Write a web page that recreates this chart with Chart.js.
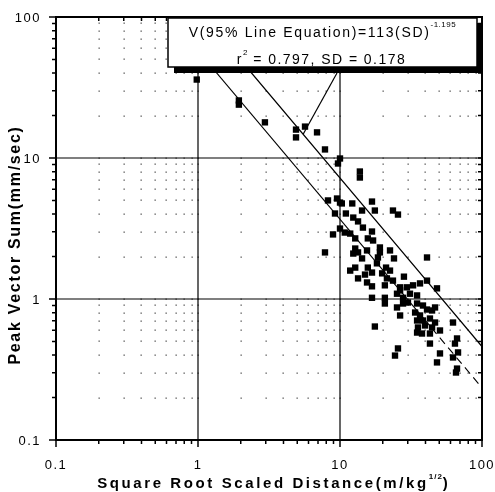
<!DOCTYPE html>
<html>
<head>
<meta charset="utf-8">
<script src="https://cdn.jsdelivr.net/npm/chart.js@4.4.1/dist/chart.umd.min.js"></script>
<style>
  html, body { margin:0; padding:0; background:#fff; }
  #wrap { width:495px; height:492px; }
</style>
</head>
<body>
<div id="wrap"><canvas id="chart" width="495" height="492"></canvas></div>
<script>
// Scaled distance (m/kg^1/2) and peak vector sum (mm/sec), one entry per record
const sdValues = [
  0.98, 1.94, 1.94, 2.96, 4.90, 4.90, 5.67, 6.89, 7.84, 9.68,
  10.0, 13.8, 13.8, 9.53, 10.0, 10.3, 8.23, 12.2, 16.8, 23.6,
  25.6, 9.22, 11.0, 14.3, 17.6, 12.4, 13.4, 10.0, 10.8, 11.8,
  12.8, 14.5, 16.8, 8.93, 7.84, 15.7, 17.1, 19.1, 12.8, 13.4,
  12.4, 15.5, 19.1, 22.5, 24.0, 18.5, 14.3, 41.0, 11.8, 12.8,
  15.7, 18.2, 21.1, 22.5, 16.8, 19.8, 13.4, 15.0, 21.4, 28.2,
  15.5, 16.8, 20.7, 23.6, 26.5, 29.6, 32.7, 36.6, 41.0, 48.2,
  16.8, 20.7, 25.2, 27.8, 31.1, 34.9, 26.5, 30.1, 20.7, 25.2,
  27.8, 34.9, 38.4, 41.0, 26.5, 33.8, 36.6, 44.5, 34.9, 38.4,
  43.0, 46.7, 62.5, 17.6, 35.4, 39.7, 44.5, 50.6, 34.9, 37.8,
  43.0, 66.7, 43.0, 64.5, 25.6, 24.4, 50.6, 48.2, 67.8, 62.5,
  66.7, 65.6, 46.7
];
const pvsValues = [
  36.0, 25.6, 23.9, 17.9, 15.9, 14.0, 16.7, 15.2, 11.5, 9.14,
  9.92, 8.02, 7.27, 5.16, 4.83, 4.76, 5.00, 4.76, 4.91, 4.24,
  3.97, 4.04, 4.04, 4.24, 4.24, 3.78, 3.55, 3.16, 2.96, 2.91,
  2.69, 3.21, 3.01, 2.87, 2.14, 2.69, 2.60, 2.32, 2.28, 2.14,
  2.10, 2.21, 2.14, 2.21, 1.94, 1.97, 1.94, 1.97, 1.59, 1.67,
  1.67, 1.79, 1.67, 1.59, 1.54, 1.52, 1.40, 1.49, 1.40, 1.44,
  1.31, 1.23, 1.25, 1.35, 1.21, 1.21, 1.25, 1.29, 1.35, 1.19,
  1.02, 1.02, 1.09, 1.02, 1.09, 1.06, 1.15, 0.944, 0.929, 0.871,
  0.929, 0.929, 0.899, 0.842, 0.764, 0.802, 0.764, 0.829, 0.704, 0.704,
  0.727, 0.681, 0.681, 0.638, 0.628, 0.649, 0.628, 0.598, 0.578, 0.569,
  0.569, 0.525, 0.483, 0.483, 0.446, 0.397, 0.411, 0.355, 0.418, 0.385,
  0.321, 0.301, 0.871
];

// Fitted attenuation law: V = K * SD^b (95% line), log standard deviation
const fitK95 = 113;
const fitExp = -1.195;
const fitR2 = 0.797;
const fitSD = 0.178;

// Axis decades and labels
const decades = [0.1, 1, 10, 100];
const xTickLabels = ['0.1', '1', '10', '100'];
const yTickLabels = ['0.1', '1', '10', '100'];

// x positions used to draw the two straight lines (mean line dashed after the 2nd)
const lineXs = [0.5, 44, 100];

const fitK50 = fitK95 / Math.pow(10, 1.645 * fitSD);
const line95 = lineXs.map(x => ({ x, y: fitK95 * Math.pow(x, fitExp) }));
const line50 = lineXs.map(x => ({ x, y: fitK50 * Math.pow(x, fitExp) }));
const points = sdValues.map((x, i) => ({ x, y: pvsValues[i] }));

// every 1..9 step in each decade
const minorVals = [];
decades.slice(0, 3).forEach(d => { for (let k = 2; k <= 9; k++) minorVals.push(+(d * k).toFixed(2)); });
const gridVals = decades.concat(minorVals);

const FONT = '"Liberation Sans", Arial, sans-serif';

function drawRuns(ctx, parts, cx, base) {
  let total = 0;
  parts.forEach(p => {
    ctx.font = p.font; ctx.letterSpacing = p.ls || '0px';
    p.w = ctx.measureText(p.t).width; total += p.w;
  });
  let xx = cx - total / 2;
  parts.forEach(p => {
    ctx.font = p.font; ctx.letterSpacing = p.ls || '0px';
    ctx.fillText(p.t, xx, base + (p.dy || 0));
    xx += p.w;
  });
}

const frame = {
  id: 'frame',
  beforeDatasetsDraw(chart) {
    const { ctx, chartArea: a, scales: { x, y } } = chart;
    ctx.save();
    // dotted minor grid, one dot per crossing
    ctx.fillStyle = '#555';
    gridVals.forEach(vx => gridVals.forEach(vy => {
      const px = Math.round(x.getPixelForValue(vx)), py = Math.round(y.getPixelForValue(vy));
      ctx.fillRect(px - 0.5, py - 0.5, 1.3, 1.3);
    }));
    // major grid lines
    ctx.strokeStyle = '#000';
    ctx.lineWidth = 1.2;
    [1, 10].forEach(v => {
      const px = x.getPixelForValue(v), py = y.getPixelForValue(v);
      ctx.beginPath(); ctx.moveTo(px, a.top); ctx.lineTo(px, a.bottom); ctx.stroke();
      ctx.beginPath(); ctx.moveTo(a.left, py); ctx.lineTo(a.right, py); ctx.stroke();
    });
    // tick marks: out on left/bottom, in on top/right
    ctx.lineWidth = 1.5;
    gridVals.forEach(v => {
      const major = decades.includes(v);
      const out = major ? 7 : 4, inn = 4;
      const px = x.getPixelForValue(v), py = y.getPixelForValue(v);
      ctx.beginPath();
      ctx.moveTo(a.left - out, py); ctx.lineTo(a.left, py);
      ctx.moveTo(px, a.bottom); ctx.lineTo(px, a.bottom + out);
      ctx.moveTo(px, a.top); ctx.lineTo(px, a.top + inn);
      ctx.moveTo(a.right, py); ctx.lineTo(a.right - inn, py);
      ctx.stroke();
    });
    // frame
    ctx.lineWidth = 2;
    ctx.strokeRect(a.left, a.top, a.right - a.left, a.bottom - a.top);
    ctx.restore();
  },
  afterDatasetsDraw(chart) {
    const { ctx, scales: { x, y } } = chart;
    ctx.save();
    ctx.fillStyle = '#000';
    ctx.textBaseline = 'alphabetic';
    ctx.textAlign = 'left';

    // equation box with drop shadow
    const bx = 168, by = 18, bw = 309, bh = 49, sh = 6;
    ctx.fillRect(bx + sh, by + 5, bw, bh + 1);
    ctx.fillStyle = '#fff';
    ctx.fillRect(bx, by, bw, bh);
    ctx.strokeStyle = '#000';
    ctx.lineWidth = 1.5;
    ctx.strokeRect(bx, by, bw, bh);

    // callout to the 95% line
    const tipX = 5.5;
    ctx.lineWidth = 1.2;
    ctx.beginPath();
    ctx.moveTo(bx + 169, by + bh + 6);
    ctx.lineTo(x.getPixelForValue(tipX), y.getPixelForValue(fitK95 * Math.pow(tipX, fitExp)));
    ctx.stroke();

    ctx.fillStyle = '#000';
    const cx = bx + bw / 2;
    const f14 = '14px ' + FONT, f8 = '8px ' + FONT;
    drawRuns(ctx, [
      { t: 'V(95% Line Equation)=' + fitK95 + '(SD)', font: f14, ls: '1.65px' },
      { t: String(fitExp), font: f8, ls: '0.5px', dy: -10 }
    ], cx, 37);
    drawRuns(ctx, [
      { t: 'r', font: f14, ls: '1.45px' },
      { t: '2', font: f8, ls: '0.5px', dy: -9 },
      { t: ' = ' + fitR2.toFixed(3) + ', SD = ' + fitSD.toFixed(3), font: f14, ls: '1.45px' }
    ], cx - 1, 64);

    // tick labels
    const ft = '13px ' + FONT;
    ctx.font = ft; ctx.letterSpacing = '1.5px';
    ctx.textAlign = 'right';
    decades.forEach((v, i) => ctx.fillText(yTickLabels[i], 41, y.getPixelForValue(v) + 5));
    ctx.textAlign = 'center';
    decades.forEach((v, i) => ctx.fillText(xTickLabels[i], x.getPixelForValue(v), 469));
    ctx.textAlign = 'left';

    // axis titles
    const fb = 'bold 15px ' + FONT, fbs = 'bold 8px ' + FONT;
    drawRuns(ctx, [
      { t: 'Square Root Scaled Distance(m/kg', font: fb, ls: '2.6px' },
      { t: '1/2', font: fbs, ls: '1px', dy: -9 },
      { t: ')', font: fb, ls: '1px' }
    ], 273, 488);
    ctx.translate(20, 245);
    ctx.rotate(-Math.PI / 2);
    drawRuns(ctx, [{ t: 'Peak Vector Sum(mm/sec)', font: 'bold 16px ' + FONT, ls: '1.7px' }], 0, 0);
    ctx.restore();
  }
};

new Chart(document.getElementById('chart'), {
  type: 'scatter',
  data: {
    datasets: [
      { data: points, pointStyle: 'rect', pointRadius: 4.5, backgroundColor: '#000', borderColor: '#000', borderWidth: 0, order: 0 },
      { type: 'line', data: line95, borderColor: '#000', borderWidth: 1.3, pointRadius: 0, fill: false, order: 1 },
      { type: 'line', data: line50, borderColor: '#000', borderWidth: 1.1, pointRadius: 0, fill: false, order: 1,
        segment: { borderDash: c => c.p0DataIndex === 1 ? [8, 5] : undefined } }
    ]
  },
  plugins: [frame],
  options: {
    responsive: false,
    animation: false,
    layout: { padding: { top: 17, right: 13, left: 0, bottom: 0 } },
    plugins: { legend: { display: false }, tooltip: { enabled: false } },
    scales: {
      x: {
        type: 'logarithmic', min: 0.1, max: 100,
        grid: { display: false }, border: { display: false },
        ticks: { display: false },
        afterFit: s => { s.height = 52; }
      },
      y: {
        type: 'logarithmic', min: 0.1, max: 100,
        grid: { display: false }, border: { display: false },
        ticks: { display: false },
        afterFit: s => { s.width = 56; }
      }
    }
  }
});
</script>
</body>
</html>
